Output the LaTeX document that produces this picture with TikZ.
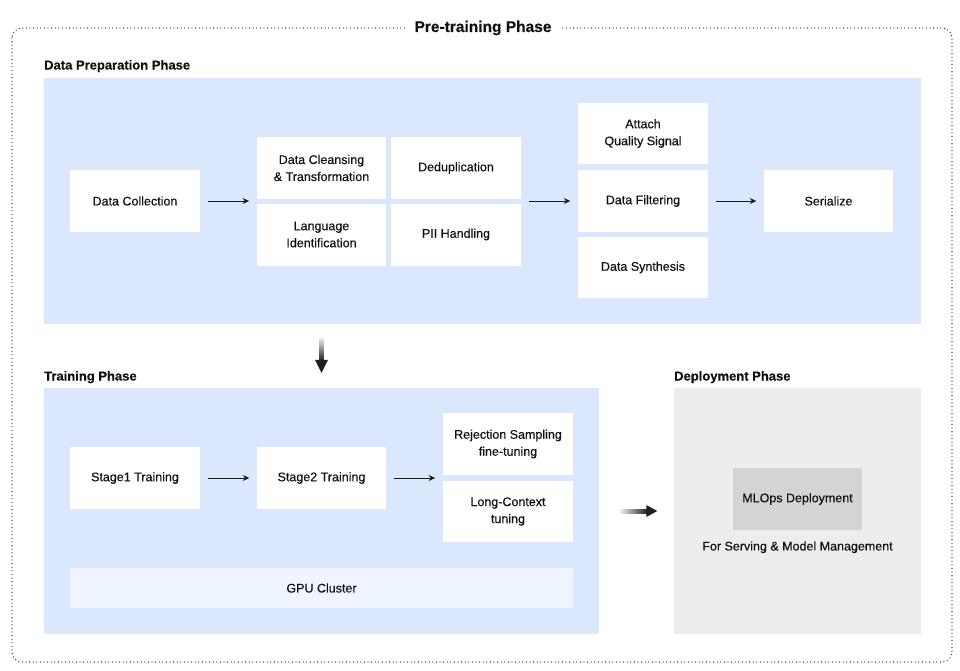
\documentclass[tikz,border=0pt]{standalone}
\usepackage{fontspec}
\setmainfont{Liberation Sans}[FakeBold=0.35]
\usetikzlibrary{arrows.meta,fit,calc}
\definecolor{panelblue}{HTML}{DAE7FC}
\definecolor{gpublue}{HTML}{EFF5FE}
\definecolor{panelgray}{HTML}{EDEDED}
\definecolor{boxgray}{HTML}{D4D4D4}
\definecolor{txt}{HTML}{111111}
\definecolor{arr}{HTML}{1A1A1A}
\begin{document}
\begin{tikzpicture}[x=1pt,y=-1pt,
  box/.style={fill=white, draw=none, minimum width=130pt, minimum height=62pt, inner sep=0pt,
    align=center, text=txt, font=\fontsize{12.5}{17}\selectfont},
  panel/.style={fill=#1, draw=none, inner sep=0pt},
  seclabel/.style={anchor=base west, inner sep=0pt, text=txt, font=\bfseries\fontsize{13}{15}\selectfont},
  flow/.style={draw=arr, line width=1pt, -{Stealth[length=6.5pt,width=6pt]}, shorten <=8pt, shorten >=7.5pt},
  grp/.style={draw=none, inner sep=0pt},
]
\useasboundingbox (0,0) rectangle (960,670);

% outer dotted frame
\draw[draw=black!85, line width=1.3pt, dash pattern=on 0pt off 3.6pt, line cap=round, rounded corners=10pt]
  (12,28) rectangle (952,662);
\node[fill=white, inner xsep=10pt, inner ysep=3pt, text=txt, font=\bfseries\fontsize{15.5}{18}\selectfont] (title) at (483,28) {Pre-training Phase};

% ---------- Data preparation ----------
\node[seclabel] (prepl) at (44,69.5) {Data Preparation Phase};
\node[panel=panelblue, minimum width=877pt, minimum height=246pt] (prep) at (482.5,201) {};

\node[box] (coll) at (135,201) {Data Collection};
\node[box, minimum width=129pt] (clean) at (321.5,168) {Data Cleansing\\\& Transformation};
\node[box] (dedup) at (456,168) {Deduplication};
\node[box, minimum width=129pt] (lang) at (321.5,234.5) {Language\\Identification};
\node[box] (pii) at (456,234.5) {PII Handling};
\node[grp, fit=(clean)(dedup)(lang)(pii)] (g1) {};

\node[box, minimum height=61pt] (attach) at (643,133.5) {Attach\\Quality Signal};
\node[box] (filter) at (643,201) {Data Filtering};
\node[box, minimum height=61pt] (synth) at (643,267.5) {Data Synthesis};
\node[grp, fit=(attach)(filter)(synth)] (g2) {};

\node[box, minimum width=129pt] (ser) at (828.5,201) {Serialize};

\draw[flow] (coll.east) -- (coll.east -| g1.west);
\draw[flow] (g1.east |- filter.west) -- (filter.west);
\draw[flow] (filter.east) -- (ser.west);

% ---------- Training ----------
\node[seclabel] (trainl) at (44,380.5) {Training Phase};
\node[panel=panelblue, minimum width=555pt, minimum height=246pt] (train) at (321.5,511) {};

\node[box] (s1) at (135,478) {Stage1 Training};
\node[box, minimum width=129pt] (s2) at (321.5,478) {Stage2 Training};
\node[box] (rs) at (508,444) {Rejection Sampling\\fine-tuning};
\node[box, minimum height=61pt] (lc) at (508,511.5) {Long-Context\\tuning};
\node[grp, fit=(rs)(lc)] (g3) {};
\node[box, fill=gpublue, minimum width=503pt, minimum height=40pt] (gpu) at (321.5,588) {GPU Cluster};

\draw[flow] (s1.east) -- (s2.west);
\draw[flow] (s2.east) -- (s2.east -| g3.west);

% ---------- Deployment ----------
\node[seclabel] (depl) at (674,380.5) {Deployment Phase};
\node[panel=panelgray, minimum width=247pt, minimum height=246pt] (dep) at (797.5,511) {};
\node[box, fill=boxgray, minimum width=129pt] (mlops) at (797.5,499) {MLOps Deployment};
\node[text=txt, inner sep=0pt, font=\fontsize{12.5}{15}\selectfont, anchor=north] (serv) at ($(mlops.south)+(0,11)$) {For Serving \& Model Management};

% ---------- big gradient arrows ----------
\coordinate (dA) at ($(prep.south -| train.north)+(0,12)$);
\coordinate (dB) at ($(train.north)+(0,-15)$);
\shade[top color=white, bottom color=black!88] ($(dA)+(-2,0)$) rectangle ($(dB)+(2,-12)$);
\fill[black!88] ($(dB)+(-6.5,-13)$) -- ($(dB)+(6.5,-13)$) -- (dB) -- cycle;

\coordinate (rA) at ($(train.east)+(19,0)$);
\coordinate (rB) at ($(dep.west)+(-16.5,0)$);
\shade[left color=white, right color=black!88] ($(rA)+(0,-2)$) rectangle ($(rB)+(-10,2)$);
\fill[black!88] ($(rB)+(-11,-6)$) -- ($(rB)+(-11,6)$) -- (rB) -- cycle;
\end{tikzpicture}
\end{document}
